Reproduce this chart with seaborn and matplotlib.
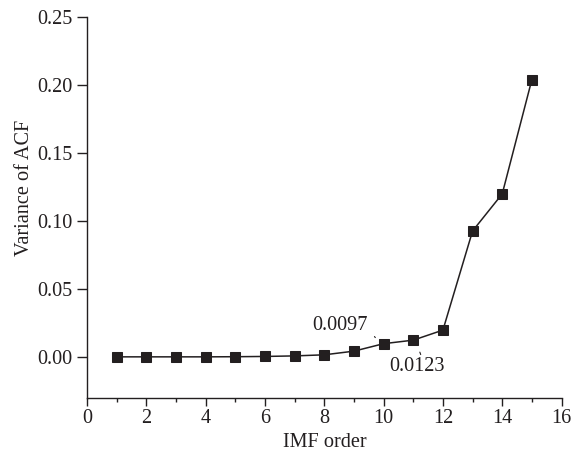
import numpy as np
import pandas as pd
import matplotlib
matplotlib.use('Agg')
import matplotlib.pyplot as plt
import seaborn as sns
from matplotlib.ticker import MultipleLocator

# IMF order vs variance of ACF
imf_order = [1, 2, 3, 4, 5, 6, 7, 8, 9, 10, 11, 12, 13, 14, 15]
variance = [0.0, 0.0, 0.0, 0.0, 0.0001, 0.0003, 0.0007, 0.0015, 0.0042,
            0.0097, 0.0123, 0.0197, 0.0927, 0.1200, 0.2042]

df = pd.DataFrame({'IMF order': imf_order, 'Variance of ACF': variance})

sns.set_style('ticks')
plt.rcParams['font.family'] = ['Liberation Serif', 'DejaVu Serif']
plt.rcParams['font.size'] = 14.6
ink = '#231f20'
fs = 14.6

fig = plt.figure(figsize=(5.73, 4.57), dpi=100)
ax = fig.add_axes([0.152, 0.13, 0.828, 0.832])

sns.lineplot(data=df, x='IMF order', y='Variance of ACF', ax=ax,
             color=ink, linewidth=1.1, marker='s', markersize=6.5,
             markeredgecolor=ink, markerfacecolor=ink)

ax.set_xlim(0, 16)
ax.set_ylim(-0.03, 0.25)
ax.xaxis.set_major_locator(MultipleLocator(2))
ax.xaxis.set_minor_locator(MultipleLocator(1))
ax.yaxis.set_major_locator(MultipleLocator(0.05))
ax.yaxis.set_major_formatter(matplotlib.ticker.FormatStrFormatter('%.2f'))
ax.tick_params(axis='both', which='major', direction='out', length=6,
               width=1, color=ink, labelsize=fs, labelcolor=ink)
ax.tick_params(axis='y', which='major', length=7)
ax.tick_params(axis='x', which='minor', direction='out', length=3,
               width=1, color=ink)
ax.tick_params(axis='x', which='major', pad=2)
ax.set_xlabel('IMF order', fontsize=fs, color=ink, labelpad=4)
ax.set_ylabel('Variance of ACF', fontsize=fs, color=ink)
ax.yaxis.set_label_coords(-0.111, 0.551)
sns.despine(ax=ax)
for s in ['left', 'bottom']:
    ax.spines[s].set_color(ink)
    ax.spines[s].set_linewidth(1)

# labels for points 10 and 11
ax.text(8.54, 0.023, '0.0097', ha='center', va='center', fontsize=fs, color=ink)
ax.annotate('', xy=(9.72, 0.0142), xytext=(9.63, 0.0165),
            arrowprops=dict(arrowstyle='-', color=ink, lw=0.8))
ax.text(11.13, -0.0069, '0.0123', ha='center', va='center', fontsize=fs, color=ink)
ax.annotate('', xy=(11.25, 0.0017), xytext=(11.19, 0.0054),
            arrowprops=dict(arrowstyle='-', color=ink, lw=0.8))

plt.savefig('out.png', dpi=100)
